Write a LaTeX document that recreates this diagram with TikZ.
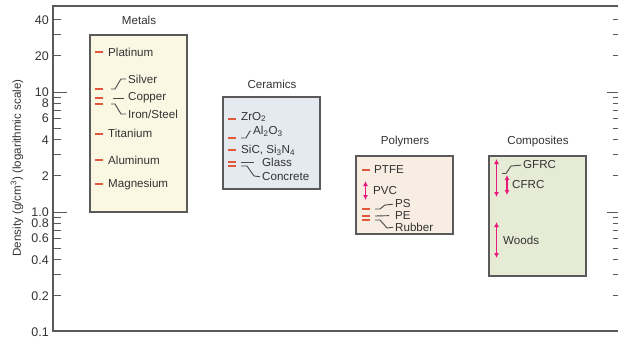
\documentclass[tikz,border=0pt]{standalone}
\usepackage{fontspec}
\setmainfont{Liberation Sans}
\usetikzlibrary{arrows.meta}

\definecolor{txtgray}{HTML}{333333}
\definecolor{axisgray}{HTML}{5A5A5A}
\definecolor{leadgray}{HTML}{4A4A4A}
\definecolor{dashred}{HTML}{E0573C}
\definecolor{rangepink}{HTML}{E8197A}
\definecolor{metalfill}{HTML}{FAF7E3}
\definecolor{ceramfill}{HTML}{E4EAEF}
\definecolor{polyfill}{HTML}{F7EDE3}
\definecolor{compfill}{HTML}{E6EBD6}

\begin{document}
\begin{tikzpicture}[x=1pt, y=-1pt, inner sep=0pt,
  declare function={dy(\d)=212-120*log10(\d); dyr(\d)=round(dy(\d));},
  font=\fontsize{11.6}{13}\selectfont]% 1pt = 1px of the reference
\useasboundingbox (0,0) rectangle (618,345);
\tikzstyle{every node}=[text=txtgray]
\tikzstyle{axisline}=[draw=axisgray, line width=1.3pt]
\tikzstyle{tickline}=[draw=axisgray, line width=0.8pt]
\tikzstyle{ticklabel}=[anchor=east, font=\fontsize{12.5}{14}\selectfont]
\tikzstyle{familybox}=[draw=axisgray, line width=1.3pt]
\tikzstyle{familyname}=[anchor=center]
\tikzstyle{item}=[anchor=west]
\tikzstyle{reddash}=[draw=dashred, line width=2pt]
\tikzstyle{lead}=[draw=leadgray, line width=0.9pt, shorten >=2pt]
\tikzstyle{spread}=[draw=rangepink, line width=1.3pt,
  {Latex[length=5pt,width=5pt]}-{Latex[length=5pt,width=5pt]}]

% frame
\draw[axisline] (618,6) -- (53,6) -- (53,331) -- (618,331);

% ticks, left and right
\foreach \v/\t/\len [count=\i] in {40/40/8,20/20/8,10/10/14,8/8/8,6/6/8,4/4/8,2/2/8,
  1/1.0/14,0.8/0.8/8,0.6/0.6/8,0.4/0.4/8,0.2/0.2/8}{
  \draw[tickline] (53,{dy(\v)}) -- ++(\len,0);
  \draw[tickline] (618,{dy(\v)}) -- ++({-\len+3},0);
  \node[ticklabel] (tick\i) at (49,{dy(\v)}) {\t};
}
\foreach \v in {30,9,7,5,3,0.9,0.7,0.5,0.3}{
  \draw[tickline] (53,{dy(\v)}) -- ++(8,0);
  \draw[tickline] (618,{dy(\v)}) -- ++(-5,0);
}
\node[ticklabel] (tick13) at (49,332) {0.1};
\node[rotate=90] (ylabel) at (17,168) {Density (g/cm\textsuperscript{3}) (logarithmic scale)};

% Metals
\draw[familybox, fill=metalfill] (90,35) rectangle (187,212);
\node[familyname] (metals) at (139,20) {Metals};
\foreach \d in {21.4,10.5,8.9,7.9,4.5,2.7,1.7}
  \draw[reddash] (95,{dyr(\d)}) -- (103,{dyr(\d)});
\node[item] (platinum) at (108,{dy(21.4)}) {Platinum};
\node[item] (silver) at (128,79) {Silver};
\node[item] (copper) at (128,98) {Copper};
\node[item] (iron) at (128,114) {Iron/Steel};
\node[item] (titanium) at (108,{dy(4.5)}) {Titanium};
\node[item] (aluminum) at (108,{dy(2.7)}) {Aluminum};
\node[item] (magnesium) at (108,{dy(1.7)}) {Magnesium};
\coordinate (ag) at (111,{dyr(10.5)});
\coordinate (cu) at (113,{dyr(8.9)});
\coordinate (fe) at (111,{dyr(7.9)});
\draw[lead] (ag) -- ++(4,0) -- (121,79) -- (silver.west);
\draw[lead, shorten >=4pt] (cu) -- (copper.west);
\draw[lead] (fe) -- ++(4,0) -- (121,114) -- (iron.west);

% Ceramics
\draw[familybox, fill=ceramfill] (223,97) rectangle (320,189);
\node[familyname] (ceramics) at (272,84) {Ceramics};
\foreach \y in {119,138,150,162,166}
  \draw[reddash] (228,\y) -- (236,\y);
\node[item] (zro) at (241,117) {ZrO\textsubscript{2}};
\node[item] (alo) at (253,131) {Al\textsubscript{2}O\textsubscript{3}};
\node[item] (sic) at (241,150) {SiC, Si\textsubscript{3}N\textsubscript{4}};
\node[item] (glass) at (262,162) {Glass};
\node[item] (concrete) at (262,177) {Concrete};
\coordinate (al) at (241,138);
\coordinate (gl) at (241,162);
\coordinate (co) at (241,166);
\draw[lead] (al) -- ++(5,0) -- (250,131) -- (alo.west);
\draw[lead, shorten >=8pt] (gl) -- (glass.west);
\draw[lead] (co) -- ++(6,0) -- (254,176) -- (concrete.west);

% Polymers
\draw[familybox, fill=polyfill] (356,156) rectangle (453,234);
\node[familyname] (polymers) at (405,142) {Polymers};
\foreach \y in {170,209,216,220}
  \draw[reddash] (362,\y) -- (370,\y);
\draw[spread] (365.5,181) -- (365.5,200);
\node[item] (ptfe) at (374,170) {PTFE};
\node[item] (pvc) at (373,191) {PVC};
\node[item] (ps) at (395,204) {PS};
\node[item] (pe) at (395,215.5) {PE};
\node[item] (rubber) at (395,227) {Rubber};
\coordinate (psl) at (375,209);
\coordinate (pel) at (375,216);
\coordinate (rul) at (375,220);
\draw[lead] (psl) -- ++(5,0) -- (385,205) -- (ps.west);
\draw[lead, shorten >=6pt] (pel) -- (pe.west);
\draw[lead] (rul) -- ++(5,0) -- (387,228) -- (rubber.west);

% Composites
\draw[familybox, fill=compfill] (489,156) rectangle (586,276);
\node[familyname] (composites) at (538,142) {Composites};
\draw[spread] (496.5,159) -- (496.5,197);
\draw[spread] (507,175) -- (507,195);
\draw[spread] (496.5,222) -- (496.5,258);
\node[item] (gfrc) at (523,165) {GFRC};
\node[item] (cfrc) at (512,184.5) {CFRC};
\node[item] (woods) at (503,240) {Woods};
\coordinate (gf) at (502,173.5);
\draw[lead] (gf) -- ++(4,0) -- (511,166) -- (gfrc.west);

\end{tikzpicture}
\end{document}
